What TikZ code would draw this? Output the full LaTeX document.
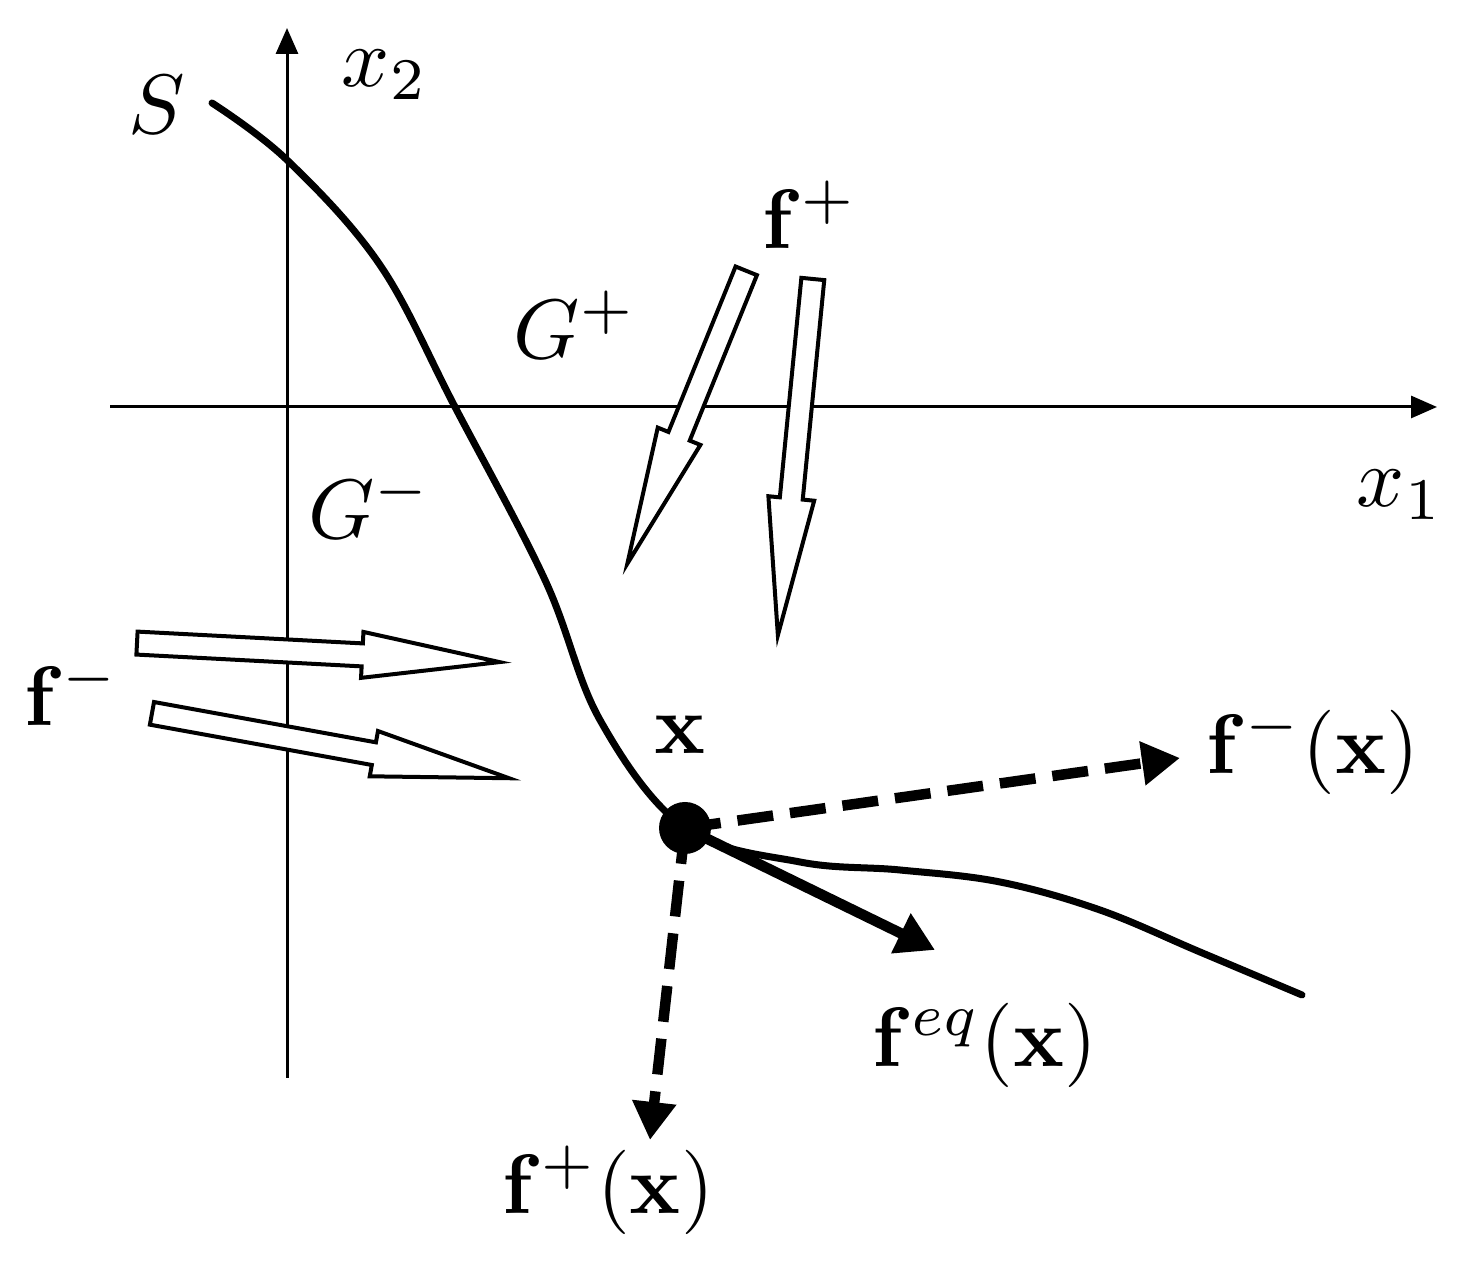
\documentclass[tikz,border=0pt]{standalone}
\usepackage{amsmath}
\usetikzlibrary{arrows.meta,shapes.arrows}
\begin{document}
\begin{tikzpicture}[
  x = 0.1mm, y = 0.1mm,
  label/.style = {scale = 2.4, inner sep = 0pt},
  axis/.style = {line width = 0.3mm, -{Triangle[length = 2.6mm, width = 2.2mm]}},
  surface/.style = {line width = 0.7mm, line cap = round},
  hollow/.style = {single arrow, draw, fill = white, line width = 0.4mm,
                   inner sep = 0.95mm, single arrow head extend = 1.15mm,
                   single arrow tip angle = 19, anchor = tail},
  field/.style = {line width = 1.05mm, -{Triangle[length = 3.8mm, width = 4.2mm]}},
  fielddash/.style = {field, dash pattern = on 3.6mm off 1.7mm},
  ]
  \useasboundingbox (0,0) rectangle (1479,1275);
  \coordinate (xaxis start) at (110,868);
  \coordinate (xaxis end) at (1437,868);
  \coordinate (yaxis start) at (287,197);
  \coordinate (yaxis end) at (287,1247);
  \draw[axis] (xaxis start) -- (xaxis end);
  \draw[axis] (yaxis start) -- (yaxis end);
  \node[label] (x1) at (1400,780) {$x_1$};
  \node[label] (x2) at (385,1200) {$x_2$};
  \draw[surface] plot[smooth, tension = 0.6] coordinates {
    (212,1172) (287,1115) (380,1010) (455,868) (545,695) (600,555) (685,447)
    (800,413) (900,405) (1000,393) (1100,365) (1200,323) (1302,280)};
  \node[label] (S) at (157,1170) {$S$};
  \node[label] (Gplus) at (575,950) {$G^{+}$};
  \node[label] (Gminus) at (370,770) {$G^{-}$};
  \node[label] (fplus) at (810,1060) {$\mathbf{f}^{+}$};
  \node[label] (fminus) at (72,583) {$\mathbf{f}^{-}$};
  \node[hollow, minimum height = 31.6mm, rotate = 247.9] (plus a) at (747,1006) {};
  \node[hollow, minimum height = 35.8mm, rotate = 264.4] (plus b) at (813,998) {};
  \node[hollow, minimum height = 36.3mm, rotate = -3.0] (minus a) at (135,632) {};
  \node[hollow, minimum height = 36.3mm, rotate = -10.3] (minus b) at (150,562) {};
  \coordinate (tip minus) at (1180,517);
  \coordinate (tip plus) at (650,135);
  \coordinate (tip eq) at (935,325);
  \draw[fielddash] (685,447) -- (tip minus);
  \draw[fielddash] (685,447) -- (tip plus);
  \draw[field] (685,447) -- (tip eq);
  \node[circle, fill, minimum size = 5.2mm] (xpt) at (685,447) {};
  \node[label] (xlab) at (680,540) {$\mathbf{x}$};
  \node[label] (fmx) at (1313,525) {$\mathbf{f}^{-}(\mathbf{x})$};
  \node[label] (feqx) at (985,230) {$\mathbf{f}^{eq}(\mathbf{x})$};
  \node[label] (fpx) at (608,85) {$\mathbf{f}^{+}(\mathbf{x})$};
\end{tikzpicture}
\end{document}
